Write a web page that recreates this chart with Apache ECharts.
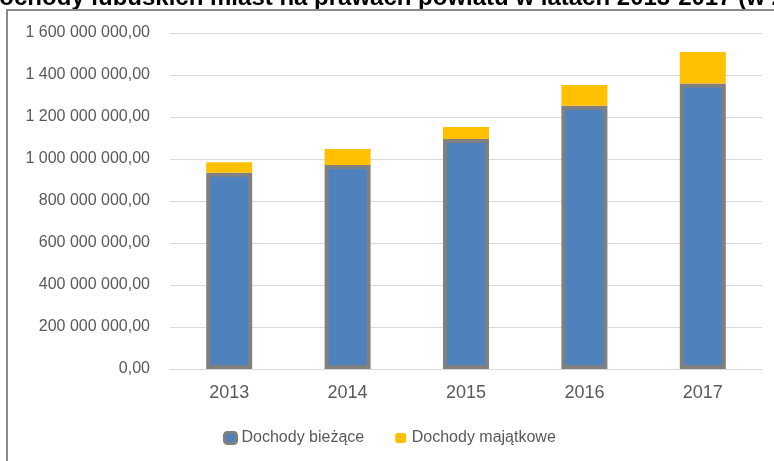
<!DOCTYPE html>
<html>
<head>
<meta charset="utf-8">
<script src="https://cdn.jsdelivr.net/npm/echarts@6/dist/echarts.min.js"></script>
<style>
  html, body { margin: 0; padding: 0; background: #fff; }
  #chart { width: 774px; height: 461px; }
</style>
</head>
<body>
<div id="chart"></div>
<script>
// dane
var years = ["2013", "2014", "2015", "2016", "2017"];
var dochodyBiezace = [935000000, 971000000, 1095000000, 1254000000, 1360000000];
var dochodyMajatkowe = [49000000, 77000000, 57000000, 98000000, 150000000];
var titleText = "Dochody lubuskich miast na prawach powiatu w latach 2013-2017 (w zł)";

function plNumber(v) {
  // 1 600 000 000,00
  var s = Math.round(v).toString().replace(/\B(?=(\d{3})+(?!\d))/g, " ");
  return s + ",00";
}

var chart = echarts.init(document.getElementById("chart"));
chart.setOption({
  animation: false,
  textStyle: { fontFamily: "Liberation Sans, Arial, sans-serif" },
  graphic: [
    {
      type: "text",
      left: -18,
      top: -14,
      style: {
        text: titleText,
        font: "bold 24px 'Liberation Sans', Arial, sans-serif",
        fill: "#000"
      }
    },
    {
      type: "rect",
      shape: { x: 7, y: 10, width: 800, height: 500 },
      style: { fill: "none", stroke: "#8a8a8a", lineWidth: 2 }
    }
  ],
  grid: {
    left: 170,
    right: 12,
    top: 33,
    bottom: 92
  },
  legend: {
    bottom: 10,
    left: 218,
    itemWidth: 12,
    itemHeight: 11,
    itemGap: 30,
    textStyle: { color: "#595959", fontSize: 16, fontFamily: "Liberation Sans, Arial, sans-serif" },
    data: [
      { name: "Dochody bieżące", itemStyle: { color: "#4F81BD", borderColor: "#808080", borderWidth: 3 } },
      { name: "Dochody majątkowe", itemStyle: { color: "#FFC000", borderColor: "#fff", borderWidth: 1 } }
    ]
  },
  xAxis: {
    type: "category",
    data: years,
    axisTick: { show: false },
    axisLine: { lineStyle: { color: "#d9d9d9", width: 1 } },
    axisLabel: {
      color: "#595959",
      fontSize: 18,
      margin: 15,
      fontFamily: "Liberation Sans, Arial, sans-serif"
    }
  },
  yAxis: {
    type: "value",
    min: 0,
    max: 1600000000,
    interval: 200000000,
    axisLine: { show: false },
    axisTick: { show: false },
    splitLine: { lineStyle: { color: "#d9d9d9", width: 1 } },
    axisLabel: {
      color: "#595959",
      fontSize: 16,
      margin: 20,
      fontFamily: "Liberation Sans, Arial, sans-serif",
      formatter: plNumber
    }
  },
  series: [
    {
      name: "Dochody bieżące",
      type: "bar",
      stack: "total",
      barWidth: 46,
      data: dochodyBiezace,
      itemStyle: { color: "#4F81BD", borderColor: "#808080", borderWidth: 4 }
    },
    {
      name: "Dochody majątkowe",
      type: "bar",
      stack: "total",
      barWidth: 46,
      data: dochodyMajatkowe,
      itemStyle: { color: "#FFC000" }
    }
  ]
});
</script>
</body>
</html>
